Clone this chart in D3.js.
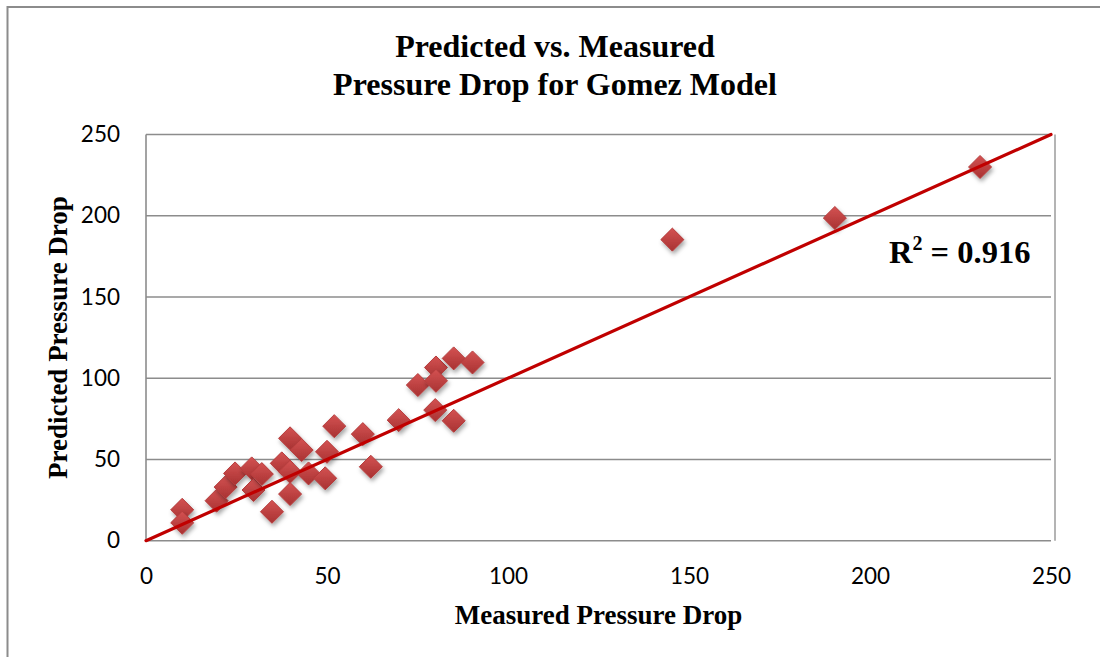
<!DOCTYPE html>
<html>
<head>
<meta charset="utf-8">
<script src="https://cdn.jsdelivr.net/npm/d3@7"></script>
<style>
  html, body { margin: 0; padding: 0; background: #fff; }
  svg { display: block; }
</style>
</head>
<body>
<svg id="chart" width="1100" height="657"></svg>
<script>
// Measured vs. predicted pressure drop (Gomez model)
const measured  = [10, 10, 19.5, 22, 24.6, 29.2, 29.7, 32, 34.8, 37.5, 39.8, 39.8, 39.8, 43, 44.9,
                   49.5, 50, 52, 59.9, 62.1, 69.8, 75.1, 80.1, 80.1, 85, 90.2, 79.9, 85, 145.4, 190.3, 230.4];
const predicted = [19, 11, 24.6, 33, 41.4, 44.5, 31.2, 41, 17.8, 47.6, 63, 42.4, 28.7, 55.8, 41.4,
                   38.4, 54.7, 70.5, 65.6, 45.5, 74.2, 95.8, 106.6, 98.4, 112.2, 109.7, 80.4, 73.8, 185.3, 198.6, 230];
const xTicks = [0, 50, 100, 150, 200, 250];
const yTicks = [0, 50, 100, 150, 200, 250];
const trendEnds = [0, 250];        // fitted line y = x
const rSquared = "0.916";
const titleLines = ["Predicted vs. Measured", "Pressure Drop for Gomez Model"];

const svg = d3.select("#chart");
const x = d3.scaleLinear().domain([0, 250]).range([146, 1051]);
const y = d3.scaleLinear().domain([0, 250]).range([540.7, 134.5]);

const defs = svg.append("defs");
const grad = defs.append("linearGradient").attr("id", "markerFill")
  .attr("x1", 0).attr("y1", 0).attr("x2", 0).attr("y2", 1);
grad.append("stop").attr("offset", "0%").attr("stop-color", "#d45252");
grad.append("stop").attr("offset", "100%").attr("stop-color", "#a83232");
const shadow = defs.append("filter").attr("id", "markerShadow")
  .attr("x", "-50%").attr("y", "-50%").attr("width", "200%").attr("height", "200%");
shadow.append("feDropShadow").attr("dx", 1.5).attr("dy", 3).attr("stdDeviation", 2)
  .attr("flood-color", "#000").attr("flood-opacity", 0.35);

// outer chart frame
svg.append("rect").attr("x", 7.5).attr("y", 7).attr("width", 1200).attr("height", 700)
  .attr("fill", "none").attr("stroke", "#8c8c8c").attr("stroke-width", 2);

// plot area frame (right side)
svg.append("line").attr("x1", 1055).attr("x2", 1055).attr("y1", y(250)).attr("y2", y(0))
  .attr("stroke", "#b4b4b4").attr("stroke-width", 2);

// horizontal gridlines
svg.append("g").selectAll("line").data(yTicks).join("line")
  .attr("x1", x(0)).attr("x2", x(250))
  .attr("y1", d => y(d)).attr("y2", d => y(d))
  .attr("stroke", "#8c8c8c").attr("stroke-width", 1.6);

// left axis line
svg.append("line").attr("x1", x(0)).attr("x2", x(0)).attr("y1", y(250)).attr("y2", y(0))
  .attr("stroke", "#8c8c8c").attr("stroke-width", 1.6);

// axes tick labels via d3 axes (tick marks hidden)
const yAxis = svg.append("g").attr("transform", `translate(${x(0) - 26},0)`)
  .call(d3.axisLeft(y).tickValues(yTicks).tickSize(0).tickPadding(0));
const xAxis = svg.append("g").attr("transform", `translate(0,${y(0) + 27})`)
  .call(d3.axisBottom(x).tickValues(xTicks).tickSize(0).tickPadding(0));
[yAxis, xAxis].forEach(g => {
  g.select(".domain").remove();
  g.selectAll("text").attr("font-family", "Lato, 'Open Sans', sans-serif")
    .attr("font-size", 22.5).attr("fill", "#000");
});
xAxis.selectAll("text").attr("dy", "0.71em");

// markers
const diamond = d3.symbol().type(d3.symbolDiamond2).size(2 * 13 * 13);
svg.append("g").selectAll("path").data(measured.map((m, i) => [m, predicted[i]])).join("path")
  .attr("transform", d => `translate(${x(d[0])},${y(d[1])})`)
  .attr("d", diamond)
  .attr("fill", "url(#markerFill)")
  .attr("stroke", "#b53c3c").attr("stroke-width", 1)
  .attr("filter", "url(#markerShadow)");

// trend line
svg.append("line")
  .attr("x1", x(trendEnds[0])).attr("y1", y(trendEnds[0]))
  .attr("x2", x(trendEnds[1])).attr("y2", y(trendEnds[1]))
  .attr("stroke", "#c00000").attr("stroke-width", 3.2).attr("stroke-linecap", "round");

const serif = "'Liberation Serif', 'Times New Roman', serif";

// title
svg.append("g").selectAll("text").data(titleLines).join("text")
  .attr("x", 555).attr("y", (d, i) => 57 + i * 38)
  .attr("text-anchor", "middle")
  .attr("font-family", serif).attr("font-weight", "bold").attr("font-size", 32)
  .text(d => d);

// axis titles
svg.append("text").attr("x", (x(0) + x(250)) / 2).attr("y", 624)
  .attr("text-anchor", "middle")
  .attr("font-family", serif).attr("font-weight", "bold").attr("font-size", 27)
  .text("Measured Pressure Drop");
svg.append("text")
  .attr("transform", `translate(66.5,${(y(0) + y(250)) / 2}) rotate(-90)`)
  .attr("text-anchor", "middle")
  .attr("font-family", serif).attr("font-weight", "bold").attr("font-size", 27)
  .text("Predicted Pressure Drop");

// R² annotation
const r2 = svg.append("text").attr("x", 889).attr("y", 263)
  .attr("font-family", serif).attr("font-weight", "bold").attr("font-size", 32.5);
r2.append("tspan").text("R");
r2.append("tspan").attr("font-size", 20).attr("dy", -13).text("2");
r2.append("tspan").attr("dy", 13).text(" = " + rSquared);
</script>
</body>
</html>
